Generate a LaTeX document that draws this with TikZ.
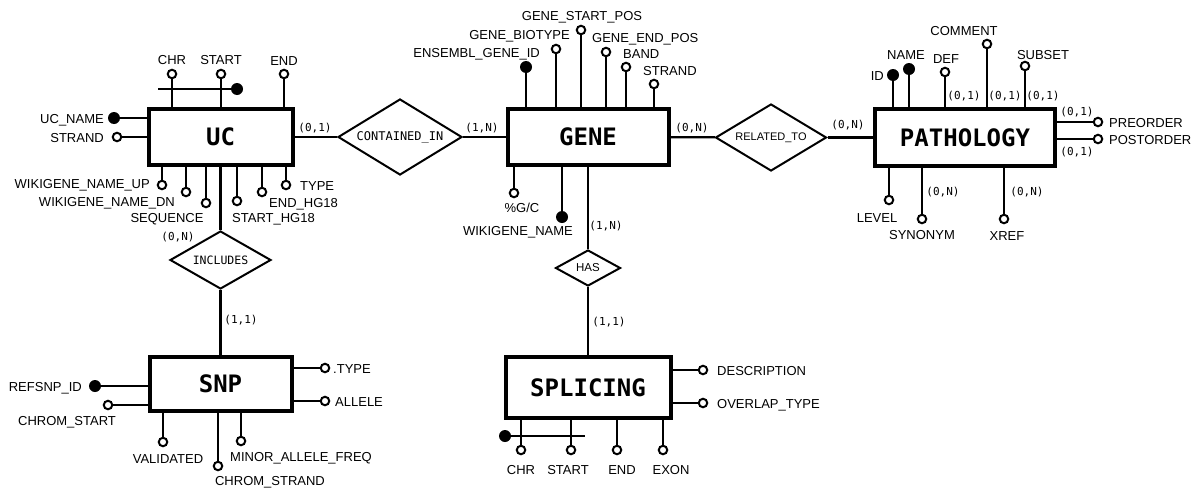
\documentclass[tikz,border=0pt]{standalone}
\usepackage{fontspec}
\setmainfont{Liberation Sans}
\newfontfamily\erfmono{DejaVu Sans Mono}
\usepackage{tikz}
\usetikzlibrary{shapes.geometric}
\newcommand{\entfont}{\erfmono\bfseries\fontsize{24}{28}\selectfont}
\newcommand{\cardfont}{\erfmono\fontsize{11}{13}\selectfont}

\begin{document}
\begin{tikzpicture}[x=1pt, y=-1pt,
    entity/.style={rectangle, draw, line width=4pt, inner sep=0pt, font=\entfont},
    rel/.style={diamond, draw, line width=2pt, inner sep=0pt, aspect=1.7},
    attr/.style={circle, draw, line width=2pt, fill=white, inner sep=0pt, minimum size=8.5pt},
    key/.style={circle, fill=black, inner sep=0pt, minimum size=12pt},
    lab/.style={inner sep=0pt, font=\fontsize{13}{15}\selectfont},
    card/.style={inner sep=0pt, font=\cardfont},
    conn/.style={line width=2.2pt}
]
    \useasboundingbox (0,0) rectangle (1191,490);

    % Entities
    \node[entity, minimum width=144pt, minimum height=56pt] (uc) at (220.5,137) {UC};
    \node[entity, minimum width=161pt, minimum height=56pt] (gene) at (588,137) {GENE};
    \node[entity, minimum width=180pt, minimum height=57pt] (pat) at (965,137.5) {PATHOLOGY};
    \node[entity, minimum width=142pt, minimum height=54pt] (snp) at (220.5,384) {SNP};
    \node[entity, minimum width=165pt, minimum height=61pt] (spl) at (588,387.5) {SPLICING};

    % Relationships
    \node[rel, minimum width=124pt, minimum height=76pt, font=\erfmono\fontsize{12}{14}\selectfont] (ci) at (400,137) {CONTAINED\_IN};
    \node[rel, minimum width=111pt, minimum height=67pt, font=\fontsize{11}{13}\selectfont] (rt) at (771,137.5) {RELATED\_TO};
    \node[rel, minimum width=101pt, minimum height=58pt, font=\erfmono\fontsize{11.5}{13}\selectfont] (inc) at (220.5,260) {INCLUDES};
    \node[rel, minimum width=65pt, minimum height=36pt, font=\fontsize{11.5}{13}\selectfont] (has) at (588,268) {HAS};

    \draw[conn] (uc) -- (ci);
    \draw[conn] (ci) -- (gene);
    \draw[conn] (gene) -- (rt);
    \draw[conn] (rt) -- (pat);
    \draw[conn] (uc) -- (inc);
    \draw[conn] (inc) -- (snp);
    \draw[conn] (gene) -- (has);
    \draw[conn] (has) -- (spl);

    % Attributes above / below the boxes
    \foreach \b/\e/\s/\x/\y/\an/\tx/\ty/\t [count=\i] in {
        uc/north/attr/172/74/base/172/64/CHR,
        uc/north/attr/221/74/base/221/64/START,
        uc/north/attr/284/74/base/284/65/END,
        uc/south/attr/162/185/base east/150/188/WIKIGENE\_NAME\_UP,
        uc/south/attr/186/192/base east/175/206/WIKIGENE\_NAME\_DN,
        uc/south/attr/206/203/base/167/222/SEQUENCE,
        uc/south/attr/237/201/base west/232/222/START\_HG18,
        uc/south/attr/262/192/base west/269/207/END\_HG18,
        uc/south/attr/286/185/base west/300/190/TYPE,
        gene/north/key/526/67/base east/540/57/ENSEMBL\_GENE\_ID,
        gene/north/attr/556/49/base east/570/39/GENE\_BIOTYPE,
        gene/north/attr/581/30/base/582/20/GENE\_START\_POS,
        gene/north/attr/606/52/base west/592/42/GENE\_END\_POS,
        gene/north/attr/626/67/base west/623/58/BAND,
        gene/north/attr/654/84/base west/643/75/STRAND,
        gene/south/attr/514/193/base/522/212/{\%G/C},
        gene/south/key/562/217/base east/573/235/WIKIGENE\_NAME,
        pat/north/key/893/75/base east/884/80/ID,
        pat/north/key/909/69/base/906/59/NAME,
        pat/north/attr/945/72/base/946/63/DEF,
        pat/north/attr/987/44/base/964/35/COMMENT,
        pat/north/attr/1025/66/base/1043/59/SUBSET,
        pat/south/attr/889/200/base/877/222/LEVEL,
        pat/south/attr/922/219/base/922/239/SYNONYM,
        pat/south/attr/1004/219/base/1007/240/XREF,
        snp/south/attr/163/442/base/168/463/VALIDATED,
        snp/south/attr/218/466/base/270/485/CHROM\_STRAND,
        snp/south/attr/241/441/base west/230/461/MINOR\_ALLELE\_FREQ,
        spl/south/attr/521/450/base/521/474/CHR,
        spl/south/attr/571/450/base/568/474/START,
        spl/south/attr/617/450/base/622/474/END,
        spl/south/attr/663/450/base/671/474/EXON} {
        \node[\s] (a\i) at (\x,\y) {};
        \draw[conn] (a\i) -- (a\i |- \b.\e);
        \node[lab, anchor=\an] (t\i) at (\tx,\ty) {\t};
    }

    % Attributes left / right of the boxes
    \foreach \b/\e/\s/\x/\y/\an/\tx/\ty/\t [count=\i] in {
        uc/west/key/114/118/base east/104/123/UC\_NAME,
        uc/west/attr/117/137/base east/104/142/STRAND,
        pat/east/attr/1098/122/base west/1109/127/PREORDER,
        pat/east/attr/1098/139/base west/1109/144/POSTORDER,
        snp/west/key/95/386/base east/82/391/REFSNP\_ID,
        snp/west/attr/108/405/base/67/425/CHROM\_START,
        snp/east/attr/325/368/base west/333/373/.TYPE,
        snp/east/attr/325/401/base west/335/406/ALLELE,
        spl/east/attr/703/370/base west/717/375/DESCRIPTION,
        spl/east/attr/703/403/base west/717/408/OVERLAP\_TYPE} {
        \node[\s] (h\i) at (\x,\y) {};
        \draw[conn] (h\i) -- (h\i -| \b.\e);
        \node[lab, anchor=\an] (ht\i) at (\tx,\ty) {\t};
    }

    % Composite keys
    \coordinate (uckeyend) at (158,89);
    \node[key] (uckey) at (237,89) {};
    \draw[conn] (uckeyend) -- (uckey);
    \coordinate (splkeyend) at (585,436);
    \node[key] (splkey) at (505,436) {};
    \draw[conn] (splkey) -- (splkeyend);

    % Cardinalities
    \foreach \x/\y/\t [count=\i] in {315/128/{(0,1)}, 482/128/{(1,N)}, 692/128/{(0,N)},
        848/125/{(0,N)}, 178/237/{(0,N)}, 241/320/{(1,1)}, 606/226/{(1,N)}, 609/322/{(1,1)},
        964/96/{(0,1)}, 1005/96/{(0,1)}, 1043/96/{(0,1)}, 1077/112/{(0,1)}, 1077/152/{(0,1)},
        943/192/{(0,N)}, 1027/192/{(0,N)}} {
        \node[card] (k\i) at (\x,\y) {\t};
    }
\end{tikzpicture}
\end{document}
